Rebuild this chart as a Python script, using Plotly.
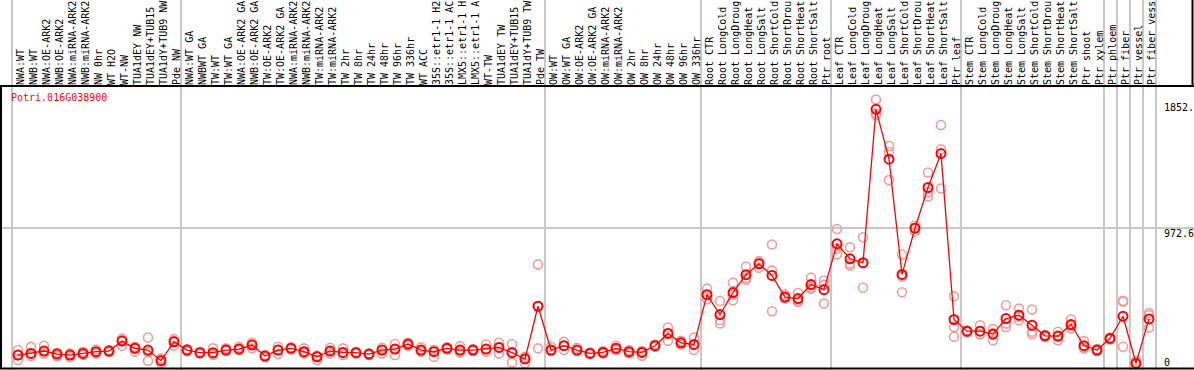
import plotly.graph_objects as go

gene = "Potri.016G038900"

labels = [
    "NWA:WT", "NWB:WT", "NWA:OE-ARK2", "NWB:OE-ARK2", "NWA:miRNA-ARK2", "NWB:miRNA-ARK2",
    "NW 0hr", "WT H2O", "WT-NW", "TUA1dEY NW", "TUA1dEY+TUB15", "TUA1dY+TUB9 NW", "Pde NW",
    "NWA:WT GA", "NWBWT GA", "TW:WT", "TW:WT GA", "NWA:OE-ARK2 GA", "NWB:OE-ARK2 GA",
    "TW:OE-ARK2", "TW:OE-ARK2 GA", "NWA:miRNA-ARK2", "NWB:miRNA-ARK2", "TW:miRNA-ARK2",
    "TW:miRNA-ARK2", "TW 2hr", "TW 8hr", "TW 24hr", "TW 48hr", "TW 96hr", "TW 336hr",
    "WT ACC", "35S::etr1-1 H2", "35S::etr1-1 AC", "LMX5::etr1-1 H", "LMX5::etr1-1 A",
    "WT-TW", "TUA1dEY TW", "TUA1dEY+TUB15", "TUA1dY+TUB9 TW", "Pde TW",
    "OW:WT", "OW:WT GA", "OW:OE-ARK2", "OW:OE-ARK2 GA", "OW:miRNA-ARK2", "OW:miRNA-ARK2",
    "OW 2hr", "OW 8hr", "OW 24hr", "OW 48hr", "OW 96hr", "OW 336hr",
    "Root CTR", "Root LongCold", "Root LongDroug", "Root LongHeat", "Root LongSalt",
    "Root ShortCold", "Root ShortDrou", "Root ShortHeat", "Root ShortSalt", "Ptr root",
    "Leaf CTR", "Leaf LongCold", "Leaf LongDroug", "Leaf LongHeat", "Leaf LongSalt",
    "Leaf ShortCold", "Leaf ShortDrou", "Leaf ShortHeat", "Leaf ShortSalt", "Ptr leaf",
    "Stem CTR", "Stem LongCold", "Stem LongDroug", "Stem LongHeat", "Stem LongSalt",
    "Stem ShortCold", "Stem ShortDrou", "Stem ShortHeat", "Stem ShortSalt", "Ptr shoot",
    "Ptr xylem", "Ptr phloem", "Ptr fiber", "Ptr vessel", "Ptr fiber vess",
]

mean = [
    64, 76, 93, 71, 64, 76, 88, 93, 164, 112, 100, 24, 159,
    100, 81, 81, 100, 107, 136, 57, 100, 112, 88, 52, 93, 83, 81, 71, 100, 107, 143,
    100, 88, 112, 100, 100, 107, 119, 81, 36, 414,
    100, 131, 100, 76, 83, 112, 88, 83, 131, 219, 152, 140,
    497, 354, 512, 640, 718, 635, 480, 469, 569, 533,
    861, 754, 726, 1825, 1468, 642, 973, 1265, 1508, 319,
    235, 235, 214, 326, 350, 278, 202, 200, 283, 131,
    100, 183, 342, 5, 323,
]

rep1 = [
    100, 123, 131, 80, 76, 88, 104, 100, 183, 124, 190, 40, 178,
    108, 88, 112, 112, 124, 152, 64, 124, 119, 112, 60, 116, 112, 88, 76, 116, 143, 152,
    119, 100, 119, 128, 107, 140, 152, 143, 52, 714,
    124, 159, 116, 83, 93, 131, 100, 93, 140, 262, 166, 190,
    540, 452, 583, 699, 737, 856, 497, 509, 619, 599,
    968, 837, 908, 1896, 1563, 785, 993, 1372, 1713, 485,
    240, 278, 250, 421, 397, 390, 209, 231, 319, 164,
    107, 176, 447, 24, 366,
]

rep2 = [
    29, 57, 76, 55, 50, 64, 76, 86, 131, 88, 24, 5, 131,
    92, 76, 64, 95, 100, 112, 50, 71, 104, 76, 29, 76, 64, 76, 64, 76, 64, 131,
    88, 52, 104, 83, 93, 88, 76, 10, 5, 112,
    93, 100, 93, 71, 76, 100, 76, 60, 124, 166, 140, 100,
    464, 314, 457, 604, 690, 378, 469, 445, 540, 433,
    785, 706, 547, 1784, 1520, 514, 950, 1230, 1539, 266,
    228, 214, 171, 266, 314, 231, 195, 171, 255, 112,
    93, 190, 124, 0, 350,
]

rep3 = [
    64, 76, 93, 78, 64, 76, 88, 93, 170, 112, 86, 28, 164,
    100, 81, 76, 100, 107, 140, 57, 100, 112, 88, 57, 93, 83, 81, 71, 100, 107, 143,
    100, 100, 112, 100, 100, 107, 119, 88, 40, 416,
    100, 131, 100, 76, 83, 112, 88, 83, 131, 219, 152, 140,
    497, 290, 497, 617, 727, 671, 474, 455, 548, 567,
    830, 720, 723, 1795, 1318, 627, 976, 1201, 1258, 195,
    237, 213, 221, 291, 339, 214, 202, 198, 275, 117,
    100, 183, 453, 0, 262,
]

y_ticks = [0, 972.6, 1852]
y_tick_text = ["0", "972.6", "1852."]

# group boundaries (grid lines between groups of samples)
group_bounds = [-0.5, 12.5, 40.5, 52.5, 62.5, 72.5, 83.5, 84.5, 85.5, 86.5, 87.5]

# ---------------------------------------------------------------- layout maths
W, H = 1194, 370
PX_PER_CAT = 13.0
FIRST_CAT_PX = 18.0
x0 = -FIRST_CAT_PX / PX_PER_CAT
x_range = [x0, x0 + W / PX_PER_CAT]
ZERO_PX = 364.0
MID_PX = 228.3
units_per_px = 972.6 / (ZERO_PX - MID_PX)
y_range = [-(H - ZERO_PX) * units_per_px, ZERO_PX * units_per_px]
LABEL_LINE_PX = 86.0


def py(p):
    return (H - p) / H


def px(p):
    return p / W


idx = list(range(len(labels)))
FONT = "DejaVu Sans Mono, Liberation Mono, monospace"

fig = go.Figure()

rx, ry = [], []
for r in (rep1, rep2, rep3):
    rx += idx
    ry += r
fig.add_trace(go.Scatter(
    x=rx, y=ry, mode="markers",
    marker=dict(symbol="circle-open", size=9, color="#ee9c9c", line=dict(width=1.6, color="#ee9c9c")),
    hoverinfo="skip", showlegend=False,
))
fig.add_trace(go.Scatter(
    x=idx, y=mean, mode="lines+markers",
    line=dict(color="#ff0000", width=1.3),
    marker=dict(symbol="circle-open", size=9, color="#ff0000", line=dict(width=2, color="#ff0000")),
    showlegend=False,
))

shapes = [
    dict(type="line", xref="paper", yref="paper", x0=0, x1=1, y0=py(LABEL_LINE_PX), y1=py(LABEL_LINE_PX),
         line=dict(color="black", width=2)),
    dict(type="line", xref="paper", yref="paper", x0=0, x1=1, y0=py(368.5), y1=py(368.5),
         line=dict(color="black", width=2)),
    dict(type="line", xref="paper", yref="paper", x0=px(1), x1=px(1), y0=py(368.5), y1=py(LABEL_LINE_PX),
         line=dict(color="black", width=2)),
    dict(type="line", xref="paper", yref="paper", x0=px(1192.5), x1=px(1192.5), y0=py(LABEL_LINE_PX), y1=1,
         line=dict(color="black", width=2)),
]

annotations = [
    dict(text=gene, xref="paper", yref="paper", x=px(9), y=py(97), xanchor="left", yanchor="middle",
         showarrow=False, font=dict(family=FONT, size=10, color="#ff0000")),
]
shifts = [2, -5, -1.5]
for v, t, s in zip(y_ticks, y_tick_text, shifts):
    annotations.append(dict(text=t, xref="paper", yref="y", x=px(1162), y=v, yshift=s,
                            xanchor="left", yanchor="middle", showarrow=False,
                            font=dict(family=FONT, size=10, color="black")))

fig.update_layout(
    width=W, height=H,
    margin=dict(l=0, r=0, t=0, b=0),
    paper_bgcolor="white", plot_bgcolor="white",
    showlegend=False,
    shapes=shapes,
    annotations=annotations,
    xaxis=dict(
        range=x_range, tickmode="array", tickvals=idx, ticktext=labels,
        side="top", anchor="free", position=py(LABEL_LINE_PX),
        tickangle=-90, ticks="", showgrid=False, zeroline=False, showline=False,
        tickfont=dict(family=FONT, size=10, color="black"),
        ticklabelshift=3, ticklabelstandoff=1,
        automargin=False,
        minor=dict(tickmode="array", tickvals=group_bounds, showgrid=True,
                   gridcolor="#c8c8c8", gridwidth=1.5, ticks=""),
    ),
    yaxis=dict(
        range=y_range, tickmode="array", tickvals=[972.6], showticklabels=False,
        showgrid=True, gridcolor="#c8c8c8", gridwidth=1.5, zeroline=False, showline=False,
        automargin=False,
    ),
)

fig.write_html(
    "out.html",
    config={"displayModeBar": False},
    post_script="document.body.style.margin='0';document.body.style.padding='0';",
)
